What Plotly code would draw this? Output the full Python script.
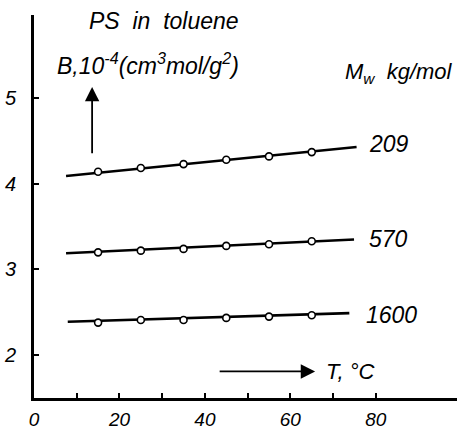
import plotly.graph_objects as go

# Data
T = [15, 25, 35, 45, 55, 65]
B_209 = [4.14, 4.185, 4.23, 4.28, 4.32, 4.37]
B_570 = [3.20, 3.22, 3.24, 3.275, 3.295, 3.33]
B_1600 = [2.38, 2.41, 2.41, 2.435, 2.45, 2.465]

fit_T_209 = [7.5, 75.5]
fit_209 = [4.09, 4.43]
fit_T_570 = [7.5, 74.9]
fit_570 = [3.19, 3.35]
fit_T_1600 = [7.9, 73.8]
fit_1600 = [2.39, 2.49]

series_labels = ["209", "570", "1600"]
x_tickvals = [0, 20, 40, 60, 80]
x_minor_tickvals = [10, 30, 50, 70]
y_tickvals = [2, 3, 4, 5]

FONT = "Liberation Sans, Arial, sans-serif"

fig = go.Figure()

for ft, fv, pv in [(fit_T_209, fit_209, B_209), (fit_T_570, fit_570, B_570),
                   (fit_T_1600, fit_1600, B_1600)]:
    fig.add_trace(go.Scatter(x=ft, y=fv, mode="lines",
                             line=dict(color="black", width=2.6),
                             showlegend=False, hoverinfo="skip"))
    fig.add_trace(go.Scatter(x=T, y=pv, mode="markers",
                             marker=dict(symbol="circle", size=7, color="white",
                                         line=dict(color="black", width=1.6)),
                             showlegend=False))

ann_font = dict(family=FONT, size=23, color="black", style="italic")
label_pos = [(78.0, 4.47), (78.0, 3.35), (77.3, 2.47)]
for lab, (lx, ly) in zip(series_labels, label_pos):
    fig.add_annotation(x=lx, y=ly, text=lab, showarrow=False, xanchor="left",
                       yanchor="middle", font=ann_font)

fig.add_annotation(x=12.3, y=5.9, text="PS  in  toluene", showarrow=False,
                   xanchor="left", yanchor="middle",
                   font=dict(family=FONT, size=23, color="black", style="italic"))
fig.add_annotation(x=4.8, y=5.40,
                   text="B,10<sup>-4</sup>(cm<sup>3</sup>mol/g<sup>2</sup>)",
                   showarrow=False, xanchor="left", yanchor="middle",
                   font=dict(family=FONT, size=23, color="black", style="italic"))
fig.add_annotation(x=72.3, y=5.29, text="M<sub>w</sub>  kg/mol", showarrow=False,
                   xanchor="left", yanchor="middle",
                   font=dict(family=FONT, size=22, color="black", style="italic"))
fig.add_annotation(x=74.0, y=1.81, text="T, °C", showarrow=False,
                   xanchor="center", yanchor="middle",
                   font=dict(family=FONT, size=22, color="black", style="italic"))

# arrows
fig.add_annotation(x=13.6, y=5.13, ax=13.6, ay=4.34, xref="x", yref="y",
                   axref="x", ayref="y", text="", showarrow=True,
                   arrowhead=2, arrowsize=1.6, arrowwidth=1.8, arrowcolor="black")
fig.add_annotation(x=65.8, y=1.81, ax=43.1, ay=1.81, xref="x", yref="y",
                   axref="x", ayref="y", text="", showarrow=True,
                   arrowhead=2, arrowsize=1.6, arrowwidth=1.8, arrowcolor="black")

fig.update_xaxes(range=[0, 99], showline=True, linecolor="black", linewidth=3,
                 tickvals=x_tickvals, ticks="inside",
                 ticklen=5, tickwidth=2, tickcolor="black", showgrid=False,
                 minor=dict(tickvals=x_minor_tickvals, ticks="inside", ticklen=5,
                            tickwidth=2, tickcolor="black", showgrid=False),
                 zeroline=False, ticklabelstandoff=2, automargin=False,
                 tickfont=dict(family=FONT, size=19, color="black", style="italic"))
fig.update_yaxes(range=[1.5, 5.97], showline=True, linecolor="black", linewidth=3,
                 tickvals=y_tickvals, ticks="inside", ticklen=5, tickwidth=2,
                 tickcolor="black", showgrid=False, zeroline=False,
                 ticklabelstandoff=11, automargin=False,
                 tickfont=dict(family=FONT, size=20, color="black", style="italic"))

fig.update_layout(width=460, height=432, margin=dict(l=34, r=3, t=15, b=34),
                  paper_bgcolor="white", plot_bgcolor="white", showlegend=False)

fig.write_html("out.html")
